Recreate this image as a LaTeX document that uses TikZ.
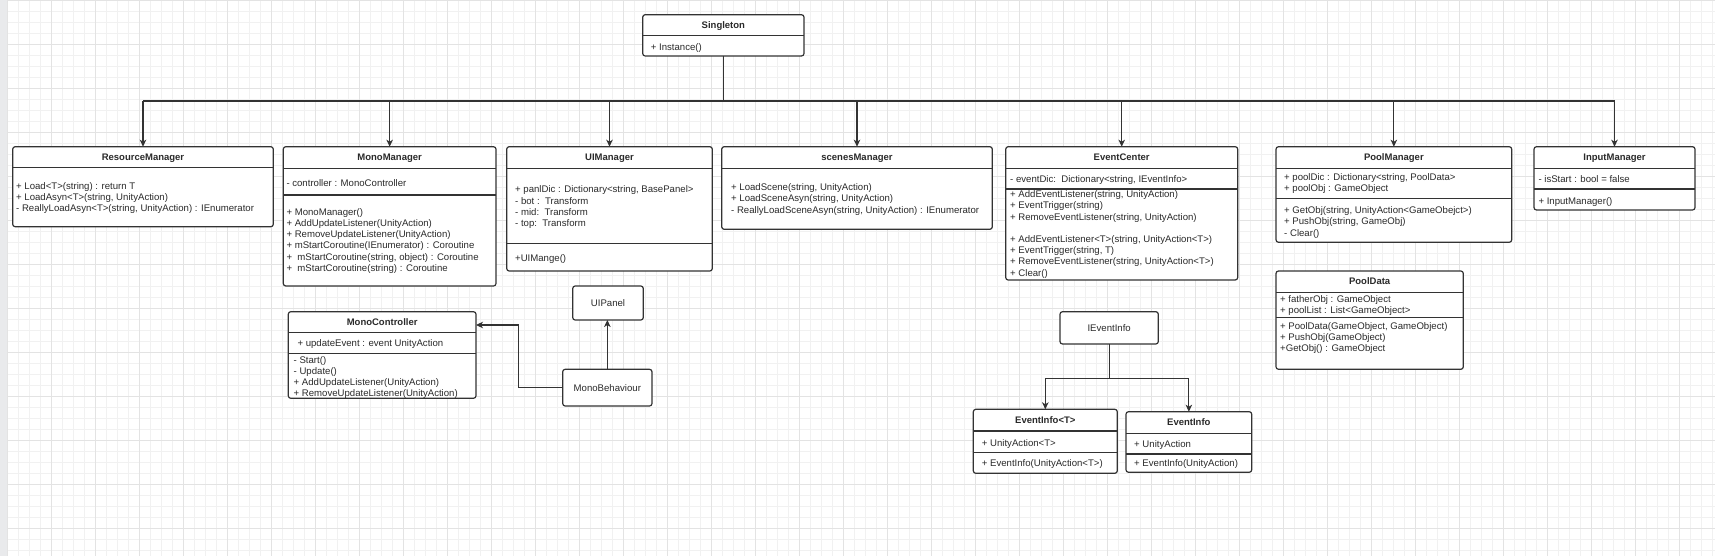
\documentclass[tikz,border=0pt]{standalone}
\usepackage{fontspec}
\setmainfont{Liberation Sans}
\usetikzlibrary{arrows.meta}
\definecolor{linec}{HTML}{333333}
\definecolor{txtc}{HTML}{2A2A2A}
\definecolor{gminc}{HTML}{F1F1F1}
\definecolor{gmajc}{HTML}{E3E3E3}
\definecolor{stripc}{HTML}{E9EAEC}
\newcommand\mlines[1]{{\renewcommand\arraystretch{1}\begin{tabular}{@{}l@{}}#1\end{tabular}}}
\newcommand\umlsep[2]{\draw[sepl] ([yshift=-#2pt]#1.north west) -- ([yshift=-#2pt]#1.north east);}
\tikzset{
  cls/.style={draw=linec, line width=1.2pt, fill=white, rounded corners=2.5pt, inner sep=0pt, outer sep=0pt, anchor=north west},
  sepl/.style={draw=linec, line width=1.2pt},
  hdr/.style={font=\bfseries\fontsize{9.5}{11.2}\selectfont, text=txtc, inner sep=0pt, anchor=base},
  lbl/.style={font=\fontsize{9.6}{11.2}\selectfont, text=txtc, inner sep=0pt, anchor=base},
  mem/.style={font=\fontsize{9.6}{11.2}\selectfont, text=txtc, inner sep=0pt, anchor=north west},
  arr/.style={draw=linec, line width=1.2pt, -{Stealth[length=7pt,width=6.5pt,inset=2pt]}},
  link/.style={draw=linec, line width=1.1pt},
  gmin/.style={draw=gminc, line width=0.8pt},
  gmaj/.style={draw=gmajc, line width=0.8pt},
}
\begin{document}
\begin{tikzpicture}[x=1pt,y=-1pt]
\useasboundingbox (0,0) rectangle (1715,556);
% background and grid
\fill[white] (0,0) rectangle (1715,556);
\foreach \i in {0,...,155} \draw[gmin] ({7.3+11*\i},0) -- ++(0,556);
\foreach \j in {0,...,50} \draw[gmin] (7,{11*\j}) -- (1715,{11*\j});
\foreach \i in {0,...,38} \draw[gmaj] ({7.3+44*\i},0) -- ++(0,556);
\foreach \j in {0,...,12} \draw[gmaj] (7,{44*\j}) -- (1715,{44*\j});
\fill[stripc] (0,0) rectangle (7,556);

% ---------- Singleton ----------
\node[cls, minimum width=161.3pt, minimum height=41.3pt] (single) at (642.7,14.7) {};
\umlsep{single}{21}
\node[hdr] at ([yshift=-13.7pt]single.north) {Singleton};
\node[mem] at (650.7,42.2) {\mlines{+ Instance()}};

% ---------- ResourceManager ----------
\node[cls, minimum width=260.6pt, minimum height=80pt] (rm) at (12.7,146.7) {};
\umlsep{rm}{20.6}
\node[hdr] at ([yshift=-13.5pt]rm.north) {ResourceManager};
\node[mem] at (16,181.5) {\mlines{+ Load<T>(string) : return T\\
+ LoadAsyn<T>(string, UnityAction)\\
- ReallyLoadAsyn<T>(string, UnityAction) : IEnumerator}};

% ---------- MonoManager ----------
\node[cls, minimum width=212.7pt, minimum height=139.3pt] (mm) at (283.3,146.7) {};
\umlsep{mm}{21.6}
\umlsep{mm}{48.3}
\node[hdr] at ([yshift=-14pt]mm.north) {MonoManager};
\node[mem] at (286.3,178.3) {\mlines{- controller : MonoController}};
\node[mem] at (286.3,207.3) {\mlines{+ MonoManager()\\
+ AddUpdateListener(UnityAction)\\
+ RemoveUpdateListener(UnityAction)\\
+ mStartCoroutine(IEnumerator) : Coroutine\\
+\ \ mStartCoroutine(string, object) : Coroutine\\
+\ \ mStartCoroutine(string) : Coroutine}};

% ---------- UIManager ----------
\node[cls, minimum width=205.6pt, minimum height=124.3pt] (uim) at (506.7,146.7) {};
\umlsep{uim}{21.6}
\umlsep{uim}{96.6}
\node[hdr] at ([yshift=-14pt]uim.north) {UIManager};
\node[mem] at (515,184.9) {\mlines{+ panlDic : Dictionary<string, BasePanel>\\
- bot :\ \ Transform\\
- mid:\ \ Transform\\
- top:\ \ Transform}};
\node[mem] at (515,253.3) {\mlines{+UIMange()}};

% ---------- scenesManager ----------
\node[cls, minimum width=270.6pt, minimum height=82.6pt] (scm) at (721.7,146.7) {};
\umlsep{scm}{21.6}
\node[hdr] at ([yshift=-14pt]scm.north) {scenesManager};
\node[mem] at (731,182.6) {\mlines{+ LoadScene(string, UnityAction)\\
+ LoadSceneAsyn(string, UnityAction)\\
- ReallyLoadSceneAsyn(string, UnityAction) : IEnumerator}};

% ---------- EventCenter ----------
\node[cls, minimum width=232pt, minimum height=133.3pt] (ec) at (1005.7,146.7) {};
\umlsep{ec}{21.6}
\umlsep{ec}{42.3}
\node[hdr] at ([yshift=-14pt]ec.north) {EventCenter};
\node[mem] at (1010,174.9) {\mlines{- eventDic:\ \ Dictionary<string, IEventInfo>}};
\node[mem] at (1010,189.6) {\mlines{+ AddEventListener(string, UnityAction)\\
+ EventTrigger(string)\\
+ RemoveEventListener(string, UnityAction)\\
~\\
+ AddEventListener<T>(string, UnityAction<T>)\\
+ EventTrigger(string, T)\\
+ RemoveEventListener(string, UnityAction<T>)\\
+ Clear()}};

% ---------- PoolManager ----------
\node[cls, minimum width=235.7pt, minimum height=95.6pt] (pm) at (1276,146.7) {};
\umlsep{pm}{21.6}
\umlsep{pm}{51.6}
\node[hdr] at ([yshift=-14pt]pm.north) {PoolManager};
\node[mem] at (1284,172.3) {\mlines{+ poolDic : Dictionary<string, PoolData>\\
+ poolObj : GameObject}};
\node[mem] at (1284,205.6) {\mlines{+ GetObj(string, UnityAction<GameObejct>)\\
+ PushObj(string, GameObj)\\
- Clear()}};

% ---------- InputManager ----------
\node[cls, minimum width=161pt, minimum height=63.3pt] (im) at (1534,146.7) {};
\umlsep{im}{21.6}
\umlsep{im}{42.3}
\node[hdr] at ([yshift=-14pt]im.north) {InputManager};
\node[mem] at (1538.3,174.6) {\mlines{- isStart : bool = false}};
\node[mem] at (1538.3,196.3) {\mlines{+ InputManager()}};

% ---------- MonoController ----------
\node[cls, minimum width=187.7pt, minimum height=86.6pt] (mc) at (288.3,311.7) {};
\umlsep{mc}{20.6}
\umlsep{mc}{41.6}
\node[hdr] at ([yshift=-13.5pt]mc.north) {MonoController};
\node[mem] at (297.3,338.9) {\mlines{+ updateEvent : event UnityAction}};
\node[mem] at (293.5,355.1) {\mlines{- Start()\\
- Update()\\
+ AddUpdateListener(UnityAction)\\
+ RemoveUpdateListener(UnityAction)}};

% ---------- UIPanel / MonoBehaviour ----------
\node[cls, minimum width=70.6pt, minimum height=34pt] (uip) at (572.7,286) {};
\node[lbl] at ([yshift=-3.4pt]uip.center) {UIPanel};
\node[cls, minimum width=89.3pt, minimum height=36.7pt] (mb) at (562.7,369.3) {};
\node[lbl] at ([yshift=-3.4pt]mb.center) {MonoBehaviour};

% ---------- PoolData ----------
\node[cls, minimum width=187.3pt, minimum height=98.3pt] (pd) at (1276,271) {};
\umlsep{pd}{21.3}
\umlsep{pd}{46.3}
\node[hdr] at ([yshift=-13.85pt]pd.north) {PoolData};
\node[mem] at (1280,294.6) {\mlines{+ fatherObj : GameObject\\
+ poolList : List<GameObject>}};
\node[mem] at (1280,321.3) {\mlines{+ PoolData(GameObject, GameObject)\\
+ PushObj(GameObject)\\
+GetObj() : GameObject}};

% ---------- IEventInfo family ----------
\node[cls, minimum width=98.3pt, minimum height=32.3pt] (iei) at (1060,311.7) {};
\node[lbl] at ([yshift=-3.4pt]iei.center) {IEventInfo};

\node[cls, minimum width=144pt, minimum height=64pt] (eit) at (973.3,409.3) {};
\umlsep{eit}{21.7}
\umlsep{eit}{43}
\node[hdr] at ([yshift=-14.05pt]eit.north) {EventInfo<T>};
\node[mem] at (981.7,438.3) {\mlines{+ UnityAction<T>}};
\node[mem] at (981.7,458.9) {\mlines{+ EventInfo(UnityAction<T>)}};

\node[cls, minimum width=125.7pt, minimum height=60.6pt] (ei) at (1126,411.7) {};
\umlsep{ei}{21.6}
\umlsep{ei}{42.3}
\node[hdr] at ([yshift=-14pt]ei.north) {EventInfo};
\node[mem] at (1134,439.6) {\mlines{+ UnityAction}};
\node[mem] at (1134,458.9) {\mlines{+ EventInfo(UnityAction)}};

% ---------- connectors ----------
\coordinate (bus) at (723.3,101);
\draw[link] (single.south) -- (single.south |- bus);
\draw[link] (rm.north |- bus) -- (im.north |- bus);
\foreach \t in {rm,mm,uim,scm,ec,pm,im}
  \draw[arr] (\t.north |- bus) -- (\t.north);
\draw[arr] (mb.north) -- (mb.north |- uip.south);
\draw[arr] (mb.west) -- ++(-44,0) |- ([yshift=30pt]mc.east);
\coordinate (ebus) at (1109.2,378.3);
\draw[link] (iei.south) -- (iei.south |- ebus);
\draw[link] (eit.north |- ebus) -- (ei.north |- ebus);
\draw[arr] (eit.north |- ebus) -- (eit.north);
\draw[arr] (ei.north |- ebus) -- (ei.north);
\end{tikzpicture}
\end{document}
